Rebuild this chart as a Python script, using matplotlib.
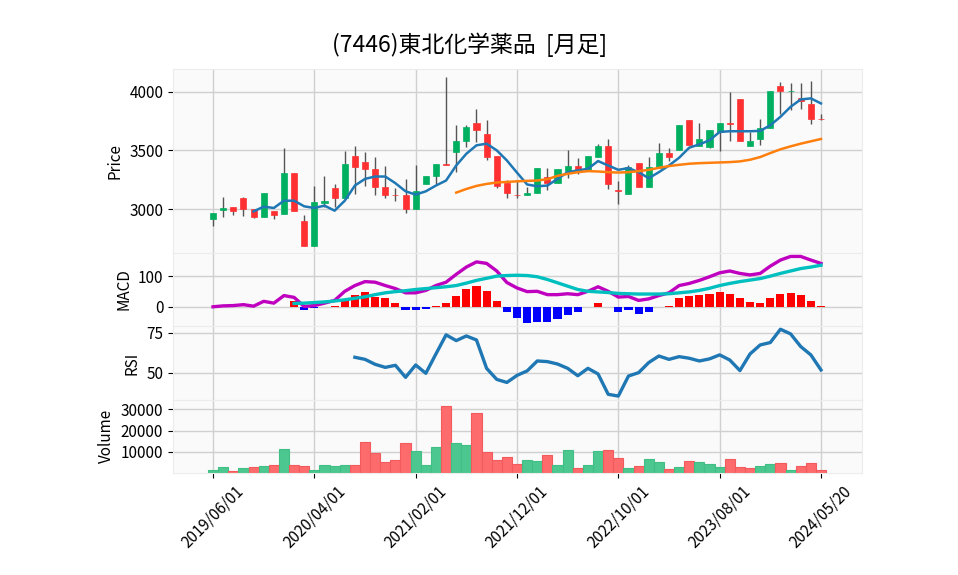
import matplotlib
matplotlib.use("Agg")
import matplotlib.pyplot as plt
import numpy as np

plt.rcParams["font.family"] = ["Noto Sans CJK JP", "DejaVu Sans"]

# ── data (monthly candles, 2019/06 .. 2024/05) ────────────────────────────────
opens = [2911, 2991, 3020, 3097, 3003, 2929, 2986, 2954, 3303, 2900,
         2689, 3054, 3183, 3097, 3449, 3397, 3343, 3191, 3123, 3123,
         3000, 3211, 3280, 3380, 3486, 3580, 3734, 3637, 3449, 3220,
         3123, 3117, 3134, 3277, 3220, 3323, 3363, 3320, 3443, 3540,
         3160, 3129, 3394, 3186, 3351, 3480, 3506, 3757, 3540, 3529,
         3660, 3734, 3934, 3540, 3600, 3694, 4049, 4003, 3943, 3894, 3770]
highs = [2970, 3100, 3020, 3106, 3003, 3140, 2986, 3523, 3303, 2951,
         3197, 3280, 3214, 3497, 3540, 3489, 3446, 3369, 3180, 3257,
         3377, 3283, 3386, 4129, 3717, 3720, 3851, 3763, 3449, 3251,
         3251, 3191, 3346, 3351, 3337, 3500, 3437, 3449, 3551, 3600,
         3243, 3371, 3394, 3443, 3566, 3523, 3714, 3757, 3734, 3677,
         3734, 4000, 3934, 3660, 3771, 4003, 4085, 4077, 4077, 4090, 3807]
lows = [2857, 2929, 2951, 2940, 2923, 2929, 2911, 2954, 2986, 2689,
        2689, 3020, 3014, 3097, 3129, 3197, 3123, 3094, 3071, 2966,
        3000, 3211, 3214, 3377, 3314, 3529, 3571, 3414, 3180, 3091,
        3091, 3117, 3134, 3160, 3220, 3263, 3297, 3320, 3443, 3171,
        3043, 3129, 3186, 3186, 3351, 3409, 3506, 3546, 3540, 3520,
        3491, 3580, 3580, 3540, 3543, 3694, 3810, 3840, 3850, 3725, 3763]
closes = [2966, 3011, 2980, 2997, 2929, 3140, 2951, 3303, 2986, 2689,
          3063, 3066, 3097, 3386, 3357, 3340, 3186, 3120, 3117, 3000,
          3157, 3283, 3380, 3377, 3577, 3697, 3671, 3443, 3200, 3134,
          3117, 3140, 3346, 3220, 3337, 3363, 3320, 3449, 3540, 3211,
          3150, 3360, 3186, 3360, 3480, 3443, 3714, 3546, 3600, 3677,
          3734, 3723, 3580, 3577, 3694, 4003, 4003, 4009, 3923, 3764, 3764]

# short moving average (blue) from index 4, long (orange) from index 24
ma_short = [2980, 3020, 3009, 3071, 3071, 3023, 3009, 3029, 2986, 3071,
            3200, 3257, 3277, 3277, 3220, 3151, 3123, 3151, 3200, 3243,
            3371, 3471, 3543, 3557, 3500, 3414, 3310, 3209, 3194, 3200,
            3257, 3314, 3329, 3343, 3409, 3371, 3334, 3349, 3314, 3263,
            3314, 3371, 3437, 3523, 3551, 3586, 3657, 3663, 3663, 3663,
            3666, 3714, 3786, 3871, 3934, 3943, 3900]
ma_long = [3140, 3171, 3197, 3214, 3226, 3231, 3236, 3240, 3243, 3254,
           3283, 3300, 3314, 3323, 3320, 3314, 3311, 3314, 3323, 3334,
           3351, 3366, 3377, 3386, 3391, 3394, 3397, 3400, 3406, 3420,
           3443, 3477, 3509, 3534, 3557, 3577, 3597]

macd = [0, 3, 4, 7, 2, 18, 12, 37, 31, 1,
        4, 12, 21, 51, 70, 83, 81, 70, 60, 46,
        46, 54, 70, 81, 107, 131, 148, 143, 118, 80,
        62, 50, 51, 40, 40, 43, 40, 51, 66, 51,
        32, 34, 21, 26, 37, 46, 70, 77, 87, 99,
        112, 118, 110, 105, 110, 134, 154, 166, 166, 154, 143]
signal = [11, 12, 14, 16, 19, 23, 28, 33, 40, 46,
          50, 53, 57, 60, 63, 66, 70, 78, 87, 94,
          101, 103, 104, 103, 99, 90, 79, 68, 57, 51,
          49, 47, 44, 43, 42, 42, 42, 43, 46, 49,
          54, 61, 70, 77, 83, 88, 93, 101, 110, 118,
          126, 131, 137]
hist = [18, -11, -4, -2, 3, 27, 40, 48, 33, 28,
        11, -10, -10, -8, 4, 14, 34, 57, 68, 52,
        18, -16, -38, -54, -49, -51, -39, -26, -17, -2,
        14, 0, -17, -12, -23, -16, -2, 4, 28, 35,
        38, 41, 48, 43, 28, 16, 11, 28, 41, 44,
        38, 19, 4]

rsi = [59.8, 58.5, 55.4, 53.5, 54.8, 47.3, 55.0, 49.8, 61.9, 73.8,
       70.2, 73.1, 70.6, 52.9, 46.0, 44.1, 48.5, 51.3, 57.5, 57.1,
       55.6, 52.9, 48.3, 52.9, 49.4, 36.7, 35.6, 48.1, 50.2, 56.5,
       60.6, 58.5, 60.2, 59.2, 57.5, 58.8, 61.3, 58.1, 51.5, 61.9,
       67.5, 69.0, 77.3, 74.4, 66.5, 61.3, 51.9]

volume = [1560, 2960, 940, 2500, 2960, 3430, 3900, 11400, 3900, 3430,
          1560, 3900, 3430, 3900, 3900, 14660, 9500, 5300, 6240, 14040,
          10450, 3900, 12300, 31360, 14040, 13260, 28240, 9830, 6240, 7640,
          4370, 6240, 5770, 8580, 3900, 10920, 2500, 3900, 10450, 10920,
          7180, 2500, 3430, 6710, 5300, 2030, 2960, 5770, 5300, 4370,
          2960, 6710, 2960, 2500, 3430, 4370, 4840, 1560, 3430, 4840, 1560]
# volume bar colour: 1 = close above previous close
vol_up = [1, 1, 0, 1, 0, 1, 0, 1, 0, 0,
          1, 1, 1, 1, 0, 0, 0, 0, 0, 0,
          1, 1, 1, 0, 1, 1, 0, 0, 0, 0,
          0, 1, 1, 0, 1, 1, 0, 1, 1, 0,
          0, 1, 0, 1, 1, 0, 1, 0, 1, 1,
          1, 0, 0, 0, 1, 1, 0, 1, 0, 0, 0]

tick_pos = [0, 10, 20, 30, 40, 50, 60]
tick_labels = ["2019/06/01", "2020/04/01", "2021/02/01", "2021/12/01",
               "2022/10/01", "2023/08/01", "2024/05/20"]

# ── style (yahoo-like) ────────────────────────────────────────────────────────
UP, DOWN, WICK = "#00b060", "#fe3032", "#555555"
VUP, VDOWN = "#4dc790", "#fd6b6c"
FACE, GRID = "#fafafa", "#d0d0d0"

n = len(closes)
x = np.arange(n)

fig = plt.figure(figsize=(9.58, 5.75), dpi=100)
gs = fig.add_gridspec(4, 1, height_ratios=[5, 2, 2, 2], hspace=0,
                      left=0.1806, right=0.8998, top=0.8795, bottom=0.1774)
ax_p = fig.add_subplot(gs[0])
ax_m = fig.add_subplot(gs[1], sharex=ax_p)
ax_r = fig.add_subplot(gs[2], sharex=ax_p)
ax_v = fig.add_subplot(gs[3], sharex=ax_p)

for ax in (ax_p, ax_m, ax_r, ax_v):
    ax.set_facecolor(FACE)
    ax.grid(True, color=GRID, linewidth=1.0)
    ax.set_axisbelow(True)
    for s in ax.spines.values():
        s.set_color("#ececec")
    ax.tick_params(axis="y", labelsize=11, length=3.5, width=0.8)
    ax.tick_params(axis="x", length=0)

# ── price panel ───────────────────────────────────────────────────────────────
o, h, l, c = map(np.array, (opens, highs, lows, closes))
colors = np.where(c >= o, UP, DOWN)
ax_p.vlines(x, l, h, color=WICK, linewidth=1.0, zorder=2)
body = np.where(np.abs(c - o) < 6, 6, c - o)
ax_p.bar(x, body, bottom=np.where(np.abs(c - o) < 6, o - 3, o), width=0.6,
         color=colors, edgecolor=colors, linewidth=0.5, zorder=3)
ax_p.plot(x[4:], ma_short, color="#1f77b4", linewidth=1.8, zorder=4)
ax_p.plot(x[24:], ma_long, color="#ff7f0e", linewidth=1.8, zorder=4)
ax_p.set_ylim(2627, 4191)
ax_p.set_yticks([3000, 3500, 4000])
ax_p.set_ylabel("Price", fontsize=11)

# ── MACD panel ────────────────────────────────────────────────────────────────
ax_m.plot(x, macd, color="m", linewidth=2.4, zorder=3)
ax_m.plot(x[8:], signal, color="c", linewidth=2.4, zorder=3)
hv = np.array(hist)
ax_m.bar(x[8:], hv, width=0.8, color=np.where(hv >= 0, "r", "b"), zorder=2)
ax_m.set_ylim(-64, 178)
ax_m.set_yticks([0, 100])
ax_m.set_ylabel("MACD", fontsize=11)

# ── RSI panel ─────────────────────────────────────────────────────────────────
ax_r.plot(x[14:], rsi, color="#1f77b4", linewidth=2.4)
ax_r.set_ylim(33.4, 79.2)
ax_r.set_yticks([50, 75])
ax_r.set_ylabel("RSI", fontsize=11)

# ── Volume panel ──────────────────────────────────────────────────────────────
vu = np.array(vol_up, dtype=bool)
ax_v.bar(x, volume, width=1.0, color=np.where(vu, VUP, VDOWN),
         edgecolor=np.where(vu, "#3fbf84", "#f25a5b"), linewidth=0.8)
ax_v.set_ylim(0, 34600)
ax_v.set_yticks([10000, 20000, 30000])
ax_v.set_ylabel("Volume", fontsize=11)

ax_v.set_xlim(-3.95, 64.05)
ax_v.set_xticks(tick_pos)
ax_v.set_xticklabels(tick_labels, rotation=45, fontsize=11)
ax_v.tick_params(axis="x", length=3.5, width=0.8)
for ax in (ax_p, ax_m, ax_r):
    plt.setp(ax.get_xticklabels(), visible=False)

fig.text(0.49, 0.922, "(7446)東北化学薬品  [月足]", ha="center", va="center",
         fontsize=16.5)

fig.savefig("out.png", dpi=100)
